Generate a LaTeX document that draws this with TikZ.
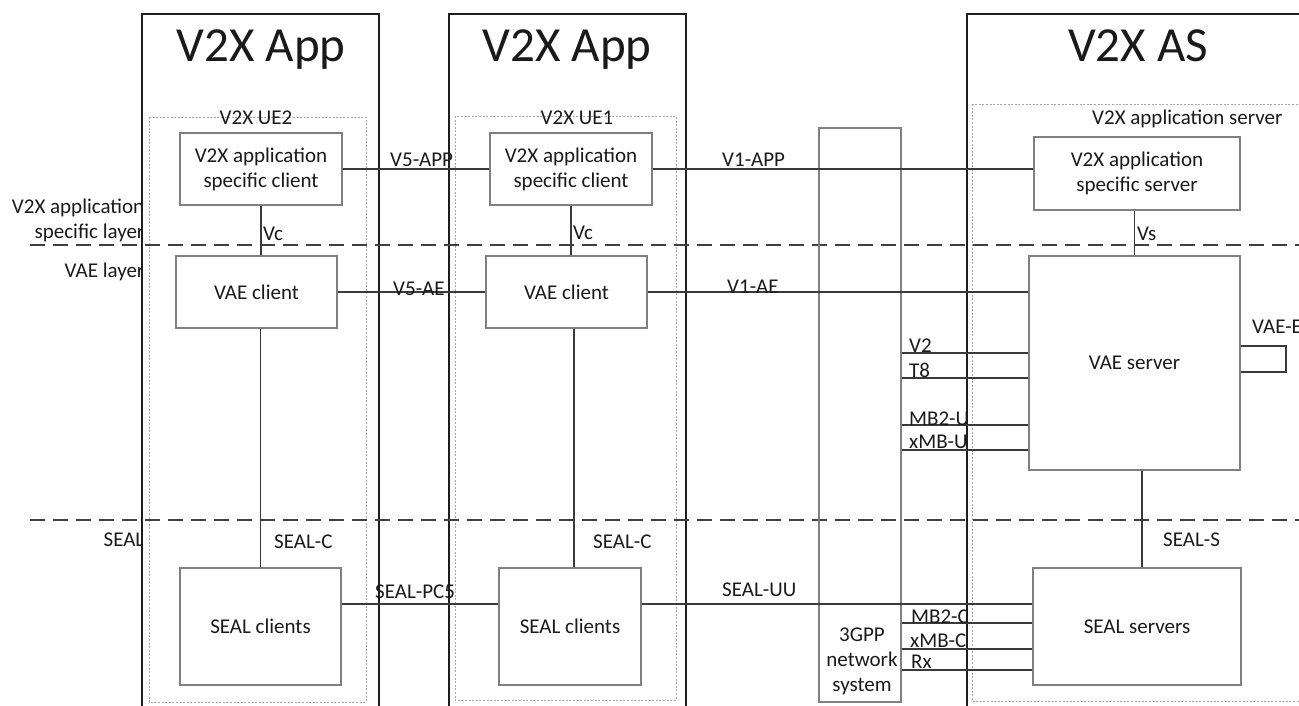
\documentclass[tikz,border=0pt]{standalone}
\usepackage{fontspec}
\setmainfont{Carlito}
\definecolor{txt}{HTML}{1A1A1A}
\definecolor{boxc}{HTML}{1E1E1E}
\definecolor{dotc}{HTML}{A6A6A6}
\definecolor{inc}{HTML}{808080}
\definecolor{conc}{HTML}{3A3A3A}
\definecolor{dashc}{HTML}{404040}
\begin{document}
\begin{tikzpicture}[x=1pt,y=-1pt,
  every node/.style={font=\fontsize{21}{25}\selectfont, text=txt, inner sep=0pt},
  thickbox/.style={draw=boxc, line width=2.4pt, fill=white},
  dotbox/.style={draw=dotc, line width=0.9pt, dash pattern=on 2pt off 1.6pt},
  inbox/.style={draw=inc, line width=1.3pt, align=center},
  conn/.style={draw=conc, line width=1.4pt},
  layerline/.style={draw=dashc, line width=1.5pt, dash pattern=on 15pt off 8pt},
  lab/.style={anchor=base west},
  leftlab/.style={anchor=base east},
  titletext/.style={font=\fontsize{49}{55}\selectfont, anchor=base}]
\useasboundingbox (0,0) rectangle (1299,706);
\clip (0,0) rectangle (1299,706);

% layer labels (partly hidden by the first box)
\node[leftlab] (llay1) at (144.5,213) {V2X application};
\node[leftlab] (llay2) at (144.5,238) {specific layer};
\node[leftlab] (llay3) at (144.5,277) {VAE layer};
\node[leftlab] (llay4) at (144.5,546) {SEAL};

% outer boxes
\draw[thickbox] (142,14) rectangle (379,712);
\draw[thickbox] (449,14) rectangle (686,712);
\draw[thickbox] (967,14) rectangle (1310,712);

\node[titletext] (t1) at (261,62) {V2X App};
\node[titletext] (t2) at (567,62) {V2X App};
\node[titletext] (t3) at (1138,62) {V2X AS};

% dotted boxes
\draw[dotbox] (149,117) rectangle (366,702);
\draw[dotbox] (455,116) rectangle (676,700);
\draw[dotbox] (972,104) rectangle (1310,701);

\node[anchor=base] (lue2) at (256,125) {V2X UE2};
\node[anchor=base] (lue1) at (577,125) {V2X UE1};
\node[lab] (las) at (1092,125) {V2X application server};

% layer separators
\draw[layerline] (30,245) -- (1310,245);
\draw[layerline] (30,520) -- (1310,520);

% inner boxes
\node[inbox, minimum width=162pt, minimum height=72pt] (ue2app) at (261,169) {V2X application\\specific client};
\node[inbox, minimum width=161pt, minimum height=72pt] (ue2vae) at (256.5,292) {VAE client};
\node[inbox, minimum width=161pt, minimum height=117pt] (ue2seal) at (260.5,626.5) {SEAL clients};
\node[inbox, minimum width=162pt, minimum height=72pt] (ue1app) at (571,169) {V2X application\\specific client};
\node[inbox, minimum width=161pt, minimum height=72pt] (ue1vae) at (566.5,292) {VAE client};
\node[inbox, minimum width=142pt, minimum height=117pt] (ue1seal) at (570,626.5) {SEAL clients};
\node[inbox, minimum width=82pt, minimum height=574pt] (gpp) at (860,415) {};
\node[align=center] (gpptxt) at (862,661) {3GPP\\network\\system};
\node[inbox, minimum width=206pt, minimum height=73pt] (asapp) at (1137,173.5) {V2X application\\specific server};
\node[inbox, minimum width=211pt, minimum height=214pt] (vaes) at (1134.5,363) {VAE server};
\node[inbox, minimum width=208pt, minimum height=117pt] (seals) at (1137,626.5) {SEAL servers};

% helper coordinates
\coordinate (y346) at (0,346);
\coordinate (y372) at (0,372);
\coordinate (ve1) at (1286,346);
\coordinate (ve2) at (1286,372);
\coordinate (y353) at (0,353);
\coordinate (y378) at (0,378);
\coordinate (y425) at (0,425);
\coordinate (y450) at (0,450);
\coordinate (y604) at (0,604);
\coordinate (y623) at (0,623);
\coordinate (y649) at (0,649);
\coordinate (y670) at (0,670);
\coordinate (xs) at (1142,0);
\coordinate (xu1) at (574,0);

% connectors
\draw[conn] (ue2app.east) -- (ue1app.west);
\draw[conn] (ue1app.east) -- (ue1app.east -| asapp.west);
\draw[conn] (ue2app.south) -- (ue2app.south |- ue2vae.north);
\draw[conn] (ue1app.south) -- (ue1app.south |- ue1vae.north);
\draw[conn] (vaes.north) -- (vaes.north |- asapp.south);
\draw[conn] (ue2vae.east) -- (ue1vae.west);
\draw[conn] (ue1vae.east) -- (ue1vae.east -| vaes.west);
\draw[conn] (ue2seal.north) -- (ue2seal.north |- ue2vae.south);
\draw[conn] (xu1 |- ue1seal.north) -- (xu1 |- ue1vae.south);
\draw[conn] (ue2seal.east |- y604) -- (ue1seal.west |- y604);
\draw[conn] (ue1seal.east |- y604) -- (seals.west |- y604);
\draw[conn] (xs |- vaes.south) -- (xs |- seals.north);
\draw[conn] (gpp.east |- y353) -- (vaes.west |- y353);
\draw[conn] (gpp.east |- y378) -- (vaes.west |- y378);
\draw[conn] (gpp.east |- y425) -- (vaes.west |- y425);
\draw[conn] (gpp.east |- y450) -- (vaes.west |- y450);
\draw[conn] (gpp.east |- y623) -- (seals.west |- y623);
\draw[conn] (gpp.east |- y649) -- (seals.west |- y649);
\draw[conn] (gpp.east |- y670) -- (seals.west |- y670);
\draw[conn] (vaes.east |- ve1) -- (ve1) -- (ve2) -- (vaes.east |- ve2);

% connector labels
\node[lab] (lv5app) at (390,167) {V5-APP};
\node[lab] (lv1app) at (722,167) {V1-APP};
\node[lab] (lvc2) at (263,240) {Vc};
\node[lab] (lvc1) at (573,239) {Vc};
\node[lab] (lvs) at (1137,240) {Vs};
\node[lab] (lv5ae) at (393,295) {V5-AE};
\node[lab] (lv1ae) at (727,293) {V1-AE};
\node[lab] (lv2) at (909,352) {V2};
\node[lab] (lt8) at (909,377) {T8};
\node[lab] (lmb2u) at (909,425) {MB2-U};
\node[lab] (lxmbu) at (909,448) {xMB-U};
\node[lab] (lmb2c) at (911,623) {MB2-C};
\node[lab] (lxmbc) at (910,647) {xMB-C};
\node[lab] (lrx) at (911,668) {Rx};
\node[lab] (lvaee) at (1252,333) {VAE-E};
\node[lab] (lseals) at (1163,546) {SEAL-S};
\node[lab] (lsealc2) at (274,548) {SEAL-C};
\node[lab] (lsealc1) at (593,548) {SEAL-C};
\node[lab] (lpc5) at (375,598) {SEAL-PC5};
\node[lab] (luu) at (722,596) {SEAL-UU};
\end{tikzpicture}
\end{document}
